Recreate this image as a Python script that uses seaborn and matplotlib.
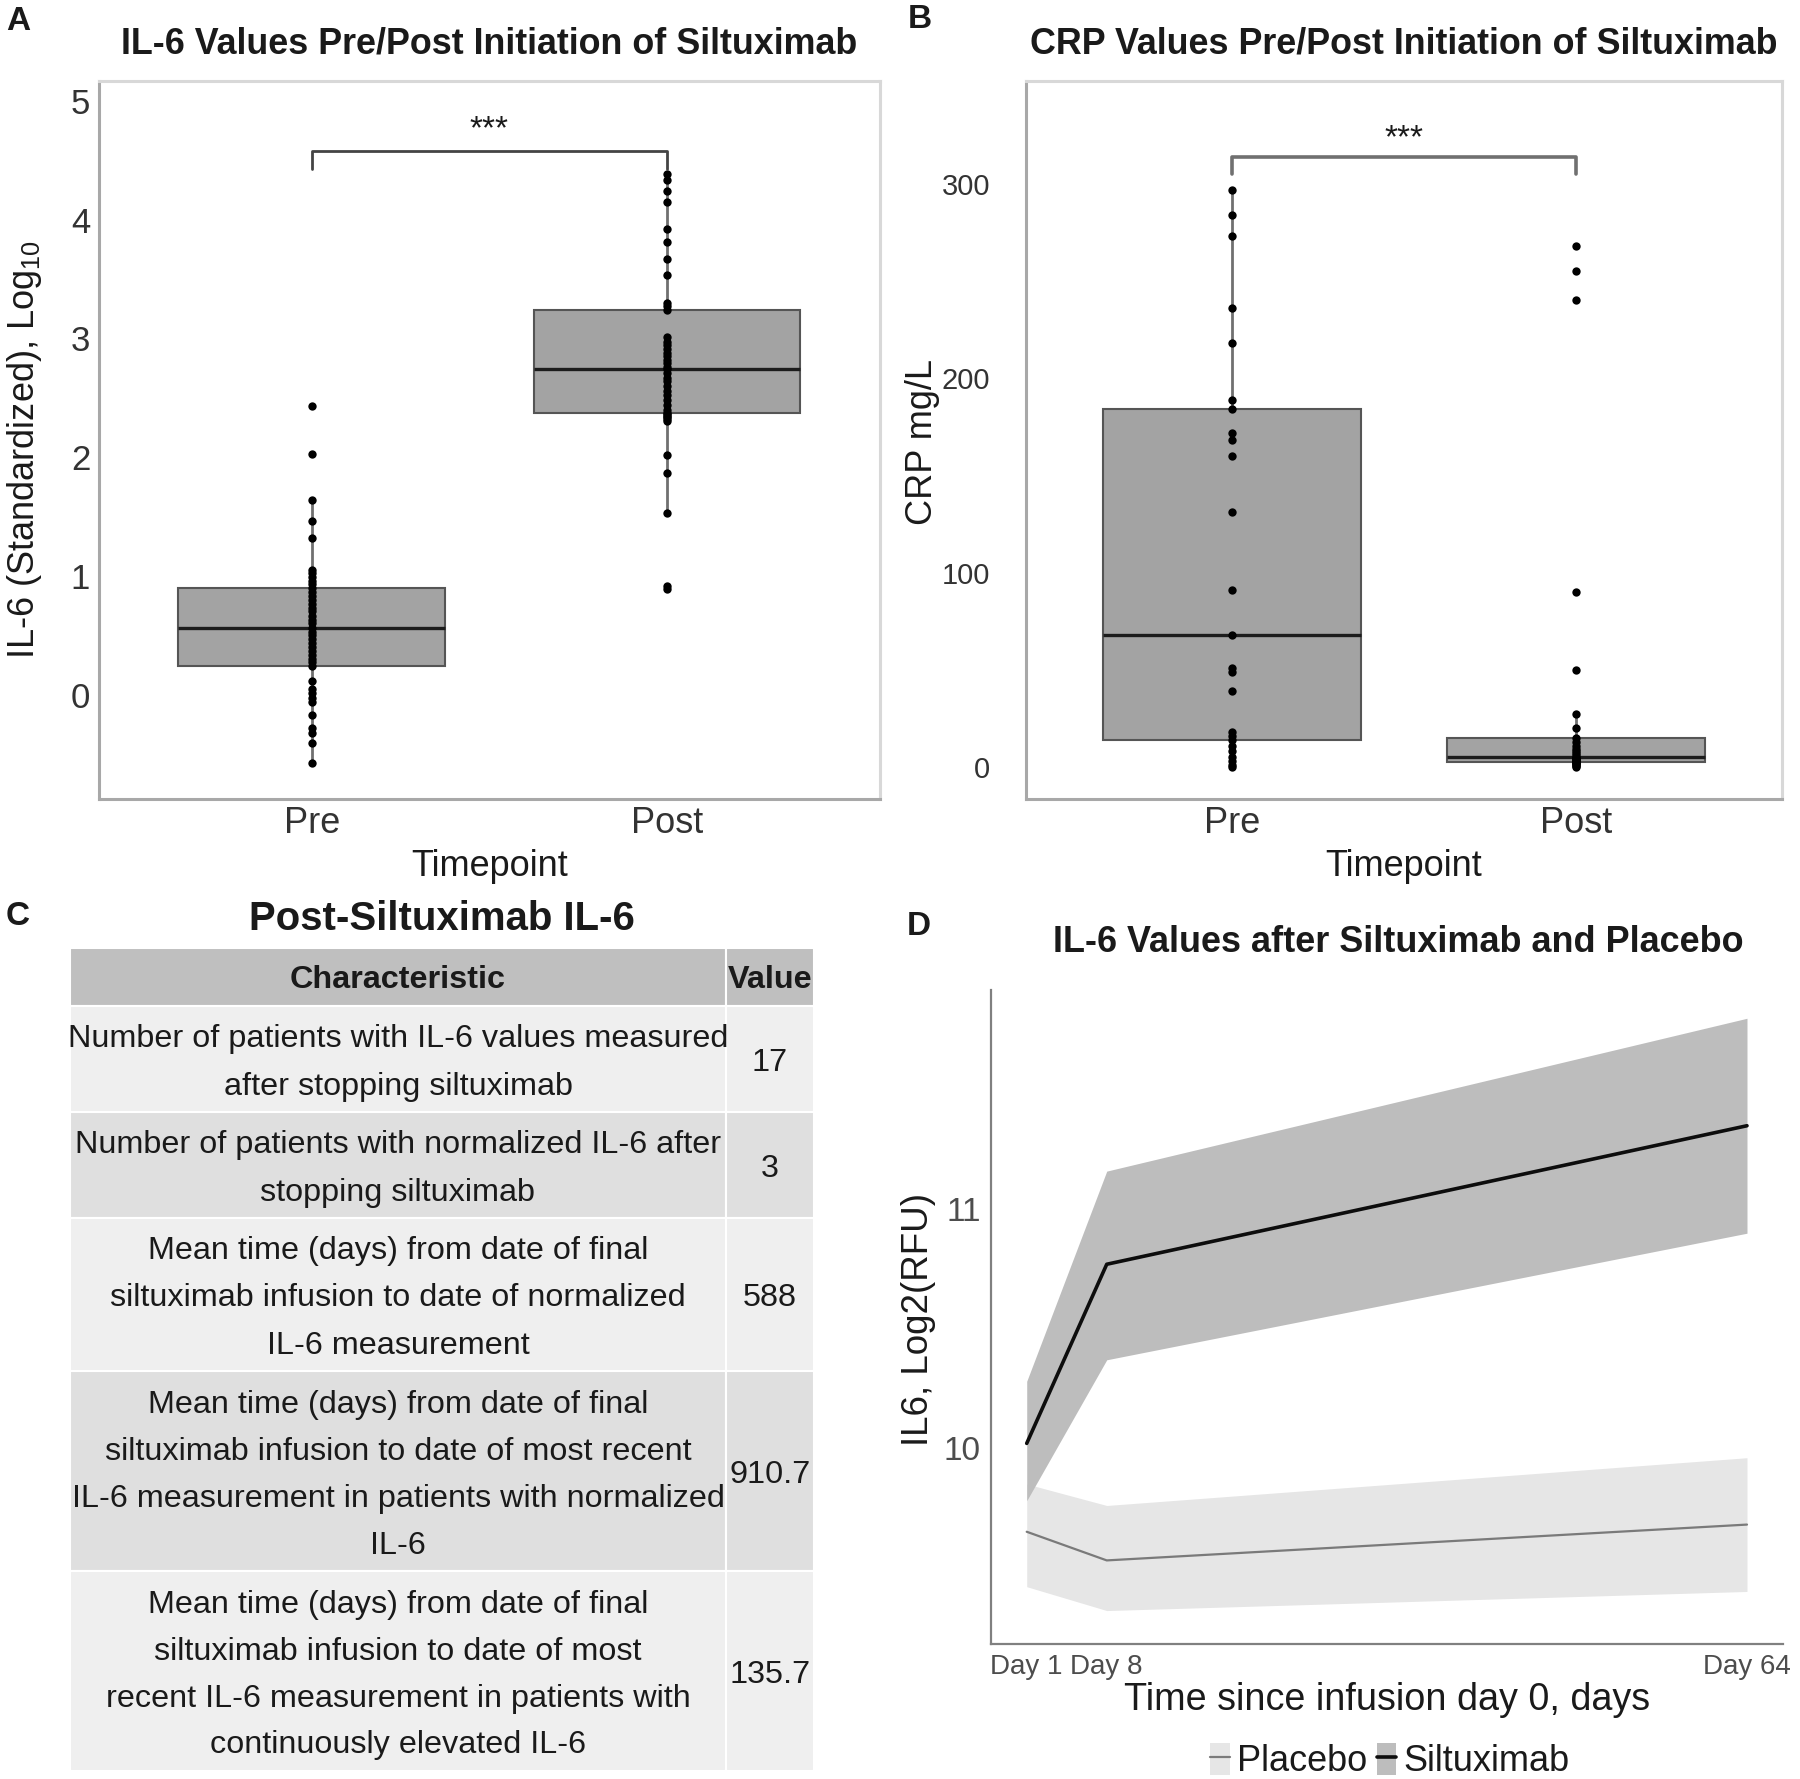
import matplotlib
matplotlib.use("Agg")
import matplotlib.pyplot as plt
import seaborn as sns
import pandas as pd
from matplotlib.patches import Rectangle, Patch
from matplotlib.lines import Line2D

sns.set_theme(style="white")
plt.rcParams['font.family'] = ['Liberation Sans', 'DejaVu Sans']
plt.rcParams['mathtext.fontset'] = 'custom'
plt.rcParams['mathtext.rm'] = 'Liberation Sans'
plt.rcParams['mathtext.it'] = 'Liberation Sans:italic'
plt.rcParams['mathtext.bf'] = 'Liberation Sans:bold'

# ---- data ----
timepoints = ["Pre", "Post"]

il6_pre = [-0.58, -0.41, -0.32, -0.28, -0.17, -0.06, -0.03, 0.01, 0.05, 0.11,
           0.24, 0.27, 0.30, 0.33, 0.37, 0.40, 0.43, 0.47, 0.50, 0.53,
           0.56, 0.60, 0.63, 0.66, 0.70, 0.73, 0.76, 0.80, 0.83, 0.86,
           0.90, 0.93, 0.96, 0.99, 1.02, 1.05, 1.32, 1.46, 1.64, 2.03, 2.43]
il6_post = [0.89, 0.91, 1.53, 1.87, 2.02, 2.30, 2.32, 2.34, 2.35, 2.36,
            2.37, 2.40, 2.44, 2.48, 2.52, 2.56, 2.60, 2.64, 2.67, 2.71,
            2.74, 2.76, 2.79, 2.82, 2.85, 2.88, 2.91, 2.94, 2.97, 3.01,
            3.24, 3.27, 3.30, 3.53, 3.67, 3.81, 3.92, 4.15, 4.24, 4.33, 4.38]

crp_pre = [0, 1, 3, 5, 8, 11, 14, 16, 18, 39, 49, 51, 68, 91, 131, 160, 168,
           172, 184, 189, 218, 236, 273, 284, 297]
crp_post = [0, 0.5, 1, 1.5, 2, 2, 2.5, 2.5, 3, 3.5, 4, 4, 4.5, 4.5, 5, 6, 7, 8,
            9, 11, 13, 15, 20, 27, 50, 90, 240, 255, 268]

days = [1, 8, 64]
day_labels = ["Day 1", "Day 8", "Day 64"]
silt_mean = [10.02, 10.77, 11.35]
silt_lower = [9.78, 10.37, 10.90]
silt_upper = [10.28, 11.16, 11.80]
plac_mean = [9.65, 9.53, 9.68]
plac_lower = [9.42, 9.32, 9.40]
plac_upper = [9.85, 9.76, 9.96]

table_chars = [
    "Number of patients with IL-6 values measured\nafter stopping siltuximab",
    "Number of patients with normalized IL-6 after\nstopping siltuximab",
    "Mean time (days) from date of final\nsiltuximab infusion to date of normalized\nIL-6 measurement",
    "Mean time (days) from date of final\nsiltuximab infusion to date of most recent\n"
    "IL-6 measurement in patients with normalized\nIL-6",
    "Mean time (days) from date of final\nsiltuximab infusion to date of most\n"
    "recent IL-6 measurement in patients with\ncontinuously elevated IL-6",
]
table_values = ["17", "3", "588", "910.7", "135.7"]

# ---- figure ----
W, H = 1800, 1779
fig = plt.figure(figsize=(W / 100, H / 100), dpi=100)
fig.patch.set_facecolor("white")


def fx(x):
    return x / W


def fy(y):
    return 1 - y / H


def axes_px(left, top, right, bottom):
    return fig.add_axes([fx(left), fy(bottom), (right - left) / W, (bottom - top) / H])


TITLE_FONT = ['Liberation Sans Narrow', 'Liberation Sans', 'DejaVu Sans']
TXT = '#1a1a1a'
BOX_FILL = '#a3a3a3'
BOX_EDGE = '#555555'


def box_panel(ax, pre, post, ylim, yticks, ysize, ypad):
    df = pd.DataFrame({"Timepoint": ["Pre"] * len(pre) + ["Post"] * len(post),
                       "value": pre + post})
    sns.boxplot(data=df, x="Timepoint", y="value", order=timepoints, ax=ax,
                width=0.75, color=BOX_FILL, saturation=1, linecolor=BOX_EDGE,
                linewidth=1.5, whis=1.5, showfliers=False,
                medianprops={'color': '#1c1c1c', 'linewidth': 2.4},
                whiskerprops={'color': '#707070', 'linewidth': 2},
                capprops={'visible': False})
    sns.stripplot(data=df, x="Timepoint", y="value", order=timepoints, ax=ax,
                  jitter=False, color="black", size=6, zorder=4)
    ax.set_xlim(-0.6, 1.6)
    ax.set_ylim(*ylim)
    ax.set_yticks(yticks)
    ax.set_xlabel("")
    ax.set_ylabel("")
    for sp in ['left', 'bottom']:
        ax.spines[sp].set_color('#a8a8a8')
        ax.spines[sp].set_linewidth(2.2)
    for sp in ['top', 'right']:
        ax.spines[sp].set_color('#d8d8d8')
        ax.spines[sp].set_linewidth(2.2)
    ax.tick_params(axis='x', length=4, color='#999999', labelsize=26,
                   labelcolor='#333333', pad=1)
    ax.tick_params(axis='y', length=3, color='#999999', labelsize=ysize,
                   labelcolor='#333333', pad=ypad)


def bracket(ax, y, drop, star_y, color, lw):
    ax.plot([0, 0, 1, 1], [y - drop, y, y, y - drop], color=color,
            lw=lw, zorder=5, clip_on=False)
    ax.text(0.5, star_y, "***", ha='center', va='center', fontsize=24, color=TXT)


# Panel A
ax_a = axes_px(98.5, 80.7, 880, 799)
box_panel(ax_a, il6_pre, il6_post, (-0.88, 5.17), [0, 1, 2, 3, 4, 5], 25, 3)
bracket(ax_a, 4.58, 0.15, 4.76, '#444444', 2)

# Panel B
ax_b = axes_px(1026, 80.7, 1782, 799)
box_panel(ax_b, crp_pre, crp_post, (-16.5, 353), [0, 100, 200, 300], 21, 23)
bracket(ax_b, 314, 9, 323, '#707070', 2.6)

# Panel D
ax_d = axes_px(990.7, 989.6, 1783, 1644)
ax_d.fill_between(days, plac_lower, plac_upper, color='#e6e6e6', lw=0, zorder=1)
ax_d.fill_between(days, silt_lower, silt_upper, color='#bdbdbd', lw=0, zorder=2)
sns.lineplot(x=days, y=plac_mean, ax=ax_d, color='#7a7a7a', lw=1.6, zorder=3)
sns.lineplot(x=days, y=silt_mean, ax=ax_d, color='#0d0d0d', lw=2.6, zorder=4)
ax_d.set_xlim(-2.15, 67.15)
ax_d.set_ylim(9.18, 11.92)
ax_d.set_xticks(days)
ax_d.set_xticklabels(day_labels)
ax_d.set_yticks([10, 11])
for sp in ['top', 'right']:
    ax_d.spines[sp].set_visible(False)
for sp in ['left', 'bottom']:
    ax_d.spines[sp].set_color('#808080')
    ax_d.spines[sp].set_linewidth(1.6)
ax_d.tick_params(axis='x', length=4, color='#808080', labelsize=20,
                 labelcolor='#4d4d4d', pad=3)
ax_d.tick_params(axis='y', length=4, color='#808080', labelsize=24,
                 labelcolor='#4d4d4d', pad=3)

leg_handles = [
    (Patch(facecolor='#e6e6e6', edgecolor='none'), Line2D([], [], color='#7a7a7a', lw=1.6)),
    (Patch(facecolor='#bdbdbd', edgecolor='none'), Line2D([], [], color='#0d0d0d', lw=2.6)),
]
fig.legend(leg_handles, ["Placebo", "Siltuximab"], loc='center',
           bbox_to_anchor=(fx(1390), fy(1761)), ncol=2, frameon=False,
           fontsize=26, handlelength=0.55, handleheight=1.0, handletextpad=0.2,
           columnspacing=0.25, borderpad=0, labelcolor=TXT)

# Panel C table
tab_left, tab_top, tab_right = 70, 948, 814
header_h = 58
line_h = 47
row_h = [line_h * (t.count("\n") + 1) + 12 for t in table_chars]
tab_bottom = tab_top + header_h + sum(row_h)
ax_t = axes_px(tab_left, tab_top, tab_right, tab_bottom)
ax_t.set_axis_off()
tw = tab_right - tab_left
th = tab_bottom - tab_top
ax_t.set_xlim(0, tw)
ax_t.set_ylim(th, 0)
col_split = 656
row_colors = ['#efefef', '#dfdfdf']
TAB_FS = 23.3


def cell(x0, x1, y0, y1, color):
    ax_t.add_patch(Rectangle((x0, y0), x1 - x0, y1 - y0, facecolor=color,
                             edgecolor='white', lw=1.5))


cell(0, col_split, 0, header_h, '#bfbfbf')
cell(col_split, tw, 0, header_h, '#bfbfbf')
ax_t.text(col_split / 2, header_h / 2 + 3, "Characteristic", ha='center', va='center',
          fontsize=TAB_FS, fontweight='bold', color=TXT)
ax_t.text((col_split + tw) / 2, header_h / 2 + 3, "Value", ha='center', va='center',
          fontsize=TAB_FS, fontweight='bold', color=TXT)
y = header_h
for i, (txt, val) in enumerate(zip(table_chars, table_values)):
    h = row_h[i]
    col = row_colors[i % 2]
    cell(0, col_split, y, y + h, col)
    cell(col_split, tw, y, y + h, col)
    lines = txt.split("\n")
    yc = y + h / 2 + 4
    for j, ln in enumerate(lines):
        ax_t.text(col_split / 2, yc + (j - (len(lines) - 1) / 2) * line_h, ln,
                  ha='center', va='center', fontsize=TAB_FS, color=TXT)
    ax_t.text((col_split + tw) / 2, yc, val, ha='center', va='center',
              fontsize=TAB_FS, color=TXT)
    y += h

# ---- titles, axis titles, panel letters ----
fig.text(fx(489), fy(43.6), "IL-6 Values Pre/Post Initiation of Siltuximab",
         ha='center', va='center', fontsize=25.8, fontweight='bold',
         family=TITLE_FONT, color=TXT)
fig.text(fx(1404), fy(43.6), "CRP Values Pre/Post Initiation of Siltuximab",
         ha='center', va='center', fontsize=25.8, fontweight='bold',
         family=TITLE_FONT, color=TXT)
fig.text(fx(1398), fy(942), "IL-6 Values after Siltuximab and Placebo",
         ha='center', va='center', fontsize=25.9, fontweight='bold',
         family=TITLE_FONT, color=TXT)
fig.text(fx(442), fy(919), "Post-Siltuximab IL-6", ha='center', va='center',
         fontsize=28.9, fontweight='bold', color=TXT)

fig.text(fx(490), fy(866), "Timepoint", ha='center', va='center', fontsize=26, color=TXT)
fig.text(fx(1404), fy(866), "Timepoint", ha='center', va='center', fontsize=26, color=TXT)
fig.text(fx(1387), fy(1700), "Time since infusion day 0, days", ha='center',
         va='center', fontsize=27.2, color=TXT)
fig.text(fx(25), fy(449), r"IL-6 (Standardized), Log$_{10}$", ha='center',
         va='center', rotation=90, fontsize=26, color=TXT)
fig.text(fx(922), fy(442), "CRP mg/L", ha='center', va='center', rotation=90,
         fontsize=26, color=TXT)
fig.text(fx(918), fy(1320), "IL6, Log2(RFU)", ha='center', va='center',
         rotation=90, fontsize=26.5, color=TXT)

for letter, (lx, ly) in {"A": (18, 21), "B": (920, 20), "C": (18, 917),
                         "D": (919, 927)}.items():
    fig.text(fx(lx), fy(ly), letter, ha='center', va='center', fontsize=24,
             fontweight='bold', color=TXT)

fig.savefig("out.png", dpi=100, facecolor="white")
